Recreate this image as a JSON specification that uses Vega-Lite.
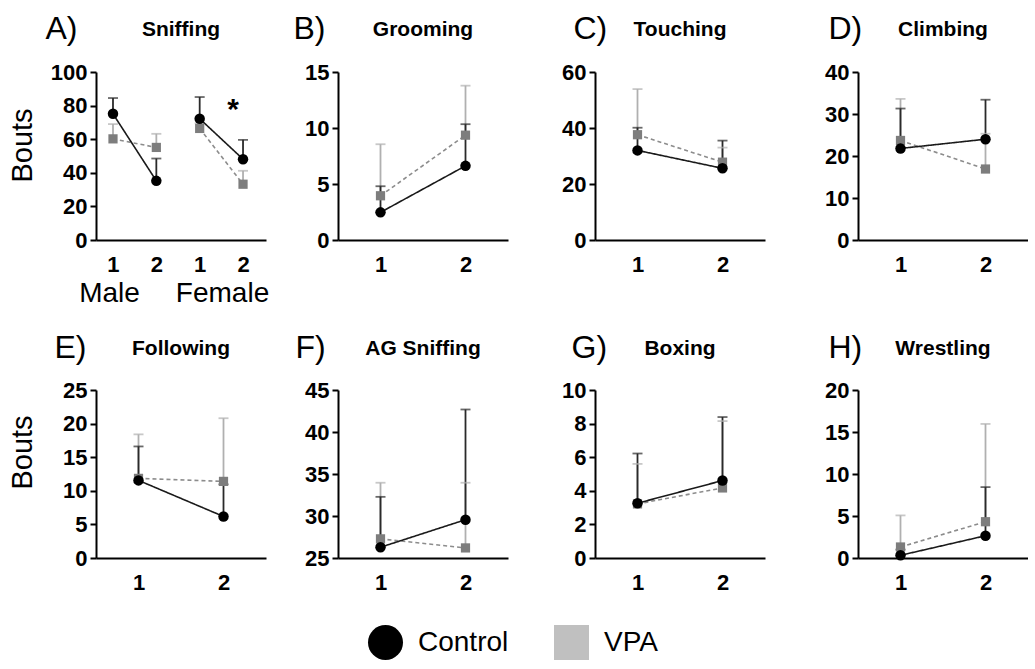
{
  "$schema": "https://vega.github.io/schema/vega-lite/v6.json",
  "padding": {"left": 8, "top": 12, "right": 0, "bottom": 0},
  "background": "white",
  "datasets": {
    "A": [
      {"group": "VPA", "sex": "Male", "pos": 1, "mean": 60.2, "upper": 69.0},
      {"group": "VPA", "sex": "Male", "pos": 2, "mean": 55.1, "upper": 63.2},
      {"group": "VPA", "sex": "Female", "pos": 3, "mean": 66.4, "upper": 69.5},
      {"group": "VPA", "sex": "Female", "pos": 4, "mean": 33.2, "upper": 41.2},
      {"group": "Control", "sex": "Male", "pos": 1, "mean": 75.1, "upper": 84.5},
      {"group": "Control", "sex": "Male", "pos": 2, "mean": 35.2, "upper": 48.5},
      {"group": "Control", "sex": "Female", "pos": 3, "mean": 72.2, "upper": 85.1},
      {"group": "Control", "sex": "Female", "pos": 4, "mean": 48.1, "upper": 59.6}
    ],
    "B": [
      {"group": "VPA", "sex": "All", "pos": 1, "mean": 3.95, "upper": 8.55},
      {"group": "VPA", "sex": "All", "pos": 2, "mean": 9.36, "upper": 13.78},
      {"group": "Control", "sex": "All", "pos": 1, "mean": 2.47, "upper": 4.8},
      {"group": "Control", "sex": "All", "pos": 2, "mean": 6.62, "upper": 10.34}
    ],
    "C": [
      {"group": "VPA", "sex": "All", "pos": 1, "mean": 37.6, "upper": 53.9},
      {"group": "VPA", "sex": "All", "pos": 2, "mean": 27.8, "upper": 33.0},
      {"group": "Control", "sex": "All", "pos": 1, "mean": 32.0, "upper": 40.1},
      {"group": "Control", "sex": "All", "pos": 2, "mean": 25.6, "upper": 35.5}
    ],
    "D": [
      {"group": "VPA", "sex": "All", "pos": 1, "mean": 23.7, "upper": 33.6},
      {"group": "VPA", "sex": "All", "pos": 2, "mean": 16.9, "upper": 25.3},
      {"group": "Control", "sex": "All", "pos": 1, "mean": 21.8, "upper": 31.3},
      {"group": "Control", "sex": "All", "pos": 2, "mean": 24.0, "upper": 33.4}
    ],
    "E": [
      {"group": "VPA", "sex": "All", "pos": 1, "mean": 11.85, "upper": 18.4},
      {"group": "VPA", "sex": "All", "pos": 2, "mean": 11.4, "upper": 20.8},
      {"group": "Control", "sex": "All", "pos": 1, "mean": 11.55, "upper": 16.6},
      {"group": "Control", "sex": "All", "pos": 2, "mean": 6.18, "upper": 10.96}
    ],
    "F": [
      {"group": "VPA", "sex": "All", "pos": 1, "mean": 27.28, "upper": 33.96},
      {"group": "VPA", "sex": "All", "pos": 2, "mean": 26.2, "upper": 33.96},
      {"group": "Control", "sex": "All", "pos": 1, "mean": 26.28, "upper": 32.28},
      {"group": "Control", "sex": "All", "pos": 2, "mean": 29.56, "upper": 42.68}
    ],
    "G": [
      {"group": "VPA", "sex": "All", "pos": 1, "mean": 3.22, "upper": 5.6},
      {"group": "VPA", "sex": "All", "pos": 2, "mean": 4.17, "upper": 8.15},
      {"group": "Control", "sex": "All", "pos": 1, "mean": 3.26, "upper": 6.22},
      {"group": "Control", "sex": "All", "pos": 2, "mean": 4.61, "upper": 8.39}
    ],
    "H": [
      {"group": "VPA", "sex": "All", "pos": 1, "mean": 1.31, "upper": 5.07},
      {"group": "VPA", "sex": "All", "pos": 2, "mean": 4.32, "upper": 15.96},
      {"group": "Control", "sex": "All", "pos": 1, "mean": 0.32, "upper": 1.0},
      {"group": "Control", "sex": "All", "pos": 2, "mean": 2.65, "upper": 8.44}
    ]
  },
  "columns": 4,
  "align": "each",
  "spacing": {"row": 24, "column": 10},
  "concat": [
    {
      "width": 170, "height": 168,
      "data": {"name": "A"},
      "title": {"text": "Sniffing"},
      "resolve": {"axis": {"x": "independent"}},
      "layer": [
        {"mark": {"type": "rule", "strokeWidth": 1.8},
         "encoding": {
           "x": {"field": "pos", "type": "quantitative", "scale": {"domain": [0.608, 4.53]}, "axis": {"values": [1, 2, 3, 4], "tickCount": 20, "labelExpr": "'' + (datum.value > 2 ? datum.value - 2 : datum.value)", "ticks": false, "labelPadding": 14, "title": null, "labelAngle": 0, "labelOverlap": false}},
           "y": {"field": "mean", "type": "quantitative", "scale": {"domain": [0, 100], "nice": false, "zero": false}, "axis": {"values": [0, 20, 40, 60, 80, 100], "tickCount": 20, "format": "d", "labelOverlap": false, "title": "Bouts", "titleFontSize": 29, "titleFontWeight": "normal", "titlePadding": 14, "titleY": 73, "minExtent": 45, "maxExtent": 45}},
           "y2": {"field": "upper"},
           "color": {"condition": {"test": "datum.group === 'VPA'", "value": "#b0b0b0"}, "value": "#2a2a2a"}
         }},
        {"mark": {"type": "tick", "orient": "horizontal", "size": 10, "thickness": 1.8},
         "encoding": {
           "x": {"field": "pos", "type": "quantitative", "scale": {"domain": [0.608, 4.53]}, "axis": {"orient": "top", "labels": false, "ticks": false, "domain": false, "title": "A)", "titleFontSize": 32, "titleFontWeight": "normal", "titleX": -51, "titleY": -34, "titleAlign": "left", "titleBaseline": "alphabetic", "minExtent": 0, "maxExtent": 0}},
           "y": {"field": "upper", "type": "quantitative", "scale": {"domain": [0, 100], "nice": false, "zero": false}},
           "color": {"condition": {"test": "datum.group === 'VPA'", "value": "#b0b0b0"}, "value": "#2a2a2a"}
         }},
        {"mark": {"type": "line", "strokeWidth": 1.6},
         "encoding": {
           "x": {"field": "pos", "type": "quantitative", "scale": {"domain": [0.608, 4.53]}, "axis": {"values": [0.908, 3.516], "labelExpr": "datum.value < 2 ? 'Male' : 'Female'", "ticks": false, "domain": false, "labelPadding": 39, "labelFontSize": 28, "labelFontWeight": "normal", "title": null, "labelAngle": 0, "labelOverlap": false}},
           "y": {"field": "mean", "type": "quantitative", "scale": {"domain": [0, 100], "nice": false, "zero": false}},
           "detail": [{"field": "group"}, {"field": "sex"}],
           "color": {"condition": {"test": "datum.group === 'VPA'", "value": "#8c8c8c"}, "value": "#1a1a1a"},
           "strokeDash": {"condition": {"test": "datum.group === 'VPA'", "value": [4, 3]}, "value": [1, 0]}
         }},
        {"mark": {"type": "point", "filled": true, "opacity": 1},
         "encoding": {
           "x": {"field": "pos", "type": "quantitative", "scale": {"domain": [0.608, 4.53]}, "axis": null},
           "y": {"field": "mean", "type": "quantitative", "scale": {"domain": [0, 100], "nice": false, "zero": false}},
           "shape": {"condition": {"test": "datum.group === 'VPA'", "value": "square"}, "value": "circle"},
           "size": {"condition": {"test": "datum.group === 'VPA'", "value": 85}, "value": 110},
           "color": {"condition": {"test": "datum.group === 'VPA'", "value": "#7d7d7d"}, "value": "#000000"}
         }},
        {"mark": {"type": "point", "filled": true, "opacity": 0},
         "encoding": {
           "x": {"field": "pos", "type": "quantitative", "scale": {"domain": [0.608, 4.53]}, "axis": null},
           "y": {"field": "mean", "type": "quantitative", "scale": {"domain": [0, 100], "nice": false, "zero": false}},
           "fill": {"field": "group", "type": "nominal", "scale": {"domain": ["Control", "VPA"], "range": ["#000000", "#c0c0c0"]}, "legend": {"title": null, "orient": "none", "legendX": 272, "legendY": 553, "direction": "horizontal", "symbolSize": 1225, "labelFontSize": 28, "labelFontWeight": "normal", "labelOffset": 15, "columnPadding": 45, "symbolOpacity": 1, "symbolStrokeWidth": 0}},
           "shape": {"field": "group", "type": "nominal", "scale": {"domain": ["Control", "VPA"], "range": ["circle", "square"]}, "legend": {"title": null, "orient": "none", "legendX": 272, "legendY": 553, "direction": "horizontal", "symbolSize": 1225, "labelFontSize": 28, "labelFontWeight": "normal", "labelOffset": 15, "columnPadding": 45, "symbolOpacity": 1, "symbolStrokeWidth": 0}}
         }},
        {"data": {"values": [{"pos": 3.77, "mean": 77.5, "label": "*"}]},
         "mark": {"type": "text", "fontSize": 30, "fontWeight": "bold", "baseline": "middle", "align": "center"},
         "encoding": {
           "x": {"field": "pos", "type": "quantitative", "scale": {"domain": [0.608, 4.53]}, "axis": null},
           "y": {"field": "mean", "type": "quantitative", "scale": {"domain": [0, 100], "nice": false, "zero": false}},
           "text": {"field": "label"}
         }}
      ]
    },
    {
      "width": 170, "height": 168,
      "data": {"name": "B"},
      "title": {"text": "Grooming"},
      "resolve": {"axis": {"x": "independent"}},
      "layer": [
        {"mark": {"type": "rule", "strokeWidth": 1.8},
         "encoding": {
           "x": {"field": "pos", "type": "quantitative", "scale": {"domain": [0.5, 2.5]}, "axis": {"values": [1, 2], "ticks": false, "labelPadding": 14, "title": null, "labelAngle": 0, "labelOverlap": false}},
           "y": {"field": "mean", "type": "quantitative", "scale": {"domain": [0, 15], "nice": false, "zero": false}, "axis": {"values": [0, 5, 10, 15], "tickCount": 20, "format": "d", "labelOverlap": false, "title": null, "minExtent": 59, "maxExtent": 59}},
           "y2": {"field": "upper"},
           "color": {"condition": {"test": "datum.group === 'VPA'", "value": "#b0b0b0"}, "value": "#2a2a2a"}
         }},
        {"mark": {"type": "tick", "orient": "horizontal", "size": 10, "thickness": 1.8},
         "encoding": {
           "x": {"field": "pos", "type": "quantitative", "scale": {"domain": [0.5, 2.5]}, "axis": {"orient": "top", "labels": false, "ticks": false, "domain": false, "title": "B)", "titleFontSize": 32, "titleFontWeight": "normal", "titleX": -45, "titleY": -34, "titleAlign": "left", "titleBaseline": "alphabetic", "minExtent": 0, "maxExtent": 0}},
           "y": {"field": "upper", "type": "quantitative", "scale": {"domain": [0, 15], "nice": false, "zero": false}},
           "color": {"condition": {"test": "datum.group === 'VPA'", "value": "#b0b0b0"}, "value": "#2a2a2a"}
         }},
        {"mark": {"type": "line", "strokeWidth": 1.6},
         "encoding": {
           "x": {"field": "pos", "type": "quantitative", "scale": {"domain": [0.5, 2.5]}, "axis": null},
           "y": {"field": "mean", "type": "quantitative", "scale": {"domain": [0, 15], "nice": false, "zero": false}},
           "detail": [{"field": "group"}, {"field": "sex"}],
           "color": {"condition": {"test": "datum.group === 'VPA'", "value": "#8c8c8c"}, "value": "#1a1a1a"},
           "strokeDash": {"condition": {"test": "datum.group === 'VPA'", "value": [4, 3]}, "value": [1, 0]}
         }},
        {"mark": {"type": "point", "filled": true, "opacity": 1},
         "encoding": {
           "x": {"field": "pos", "type": "quantitative", "scale": {"domain": [0.5, 2.5]}, "axis": null},
           "y": {"field": "mean", "type": "quantitative", "scale": {"domain": [0, 15], "nice": false, "zero": false}},
           "shape": {"condition": {"test": "datum.group === 'VPA'", "value": "square"}, "value": "circle"},
           "size": {"condition": {"test": "datum.group === 'VPA'", "value": 85}, "value": 110},
           "color": {"condition": {"test": "datum.group === 'VPA'", "value": "#7d7d7d"}, "value": "#000000"}
         }}
      ]
    },
    {
      "width": 170, "height": 168,
      "data": {"name": "C"},
      "title": {"text": "Touching"},
      "resolve": {"axis": {"x": "independent"}},
      "layer": [
        {"mark": {"type": "rule", "strokeWidth": 1.8},
         "encoding": {
           "x": {"field": "pos", "type": "quantitative", "scale": {"domain": [0.5, 2.5]}, "axis": {"values": [1, 2], "ticks": false, "labelPadding": 14, "title": null, "labelAngle": 0, "labelOverlap": false}},
           "y": {"field": "mean", "type": "quantitative", "scale": {"domain": [0, 60], "nice": false, "zero": false}, "axis": {"values": [0, 20, 40, 60], "tickCount": 20, "format": "d", "labelOverlap": false, "title": null, "minExtent": 77, "maxExtent": 77}},
           "y2": {"field": "upper"},
           "color": {"condition": {"test": "datum.group === 'VPA'", "value": "#b0b0b0"}, "value": "#2a2a2a"}
         }},
        {"mark": {"type": "tick", "orient": "horizontal", "size": 10, "thickness": 1.8},
         "encoding": {
           "x": {"field": "pos", "type": "quantitative", "scale": {"domain": [0.5, 2.5]}, "axis": {"orient": "top", "labels": false, "ticks": false, "domain": false, "title": "C)", "titleFontSize": 32, "titleFontWeight": "normal", "titleX": -22, "titleY": -34, "titleAlign": "left", "titleBaseline": "alphabetic", "minExtent": 0, "maxExtent": 0}},
           "y": {"field": "upper", "type": "quantitative", "scale": {"domain": [0, 60], "nice": false, "zero": false}},
           "color": {"condition": {"test": "datum.group === 'VPA'", "value": "#b0b0b0"}, "value": "#2a2a2a"}
         }},
        {"mark": {"type": "line", "strokeWidth": 1.6},
         "encoding": {
           "x": {"field": "pos", "type": "quantitative", "scale": {"domain": [0.5, 2.5]}, "axis": null},
           "y": {"field": "mean", "type": "quantitative", "scale": {"domain": [0, 60], "nice": false, "zero": false}},
           "detail": [{"field": "group"}, {"field": "sex"}],
           "color": {"condition": {"test": "datum.group === 'VPA'", "value": "#8c8c8c"}, "value": "#1a1a1a"},
           "strokeDash": {"condition": {"test": "datum.group === 'VPA'", "value": [4, 3]}, "value": [1, 0]}
         }},
        {"mark": {"type": "point", "filled": true, "opacity": 1},
         "encoding": {
           "x": {"field": "pos", "type": "quantitative", "scale": {"domain": [0.5, 2.5]}, "axis": null},
           "y": {"field": "mean", "type": "quantitative", "scale": {"domain": [0, 60], "nice": false, "zero": false}},
           "shape": {"condition": {"test": "datum.group === 'VPA'", "value": "square"}, "value": "circle"},
           "size": {"condition": {"test": "datum.group === 'VPA'", "value": 85}, "value": 110},
           "color": {"condition": {"test": "datum.group === 'VPA'", "value": "#7d7d7d"}, "value": "#000000"}
         }}
      ]
    },
    {
      "width": 170, "height": 168,
      "data": {"name": "D"},
      "title": {"text": "Climbing"},
      "resolve": {"axis": {"x": "independent"}},
      "layer": [
        {"mark": {"type": "rule", "strokeWidth": 1.8},
         "encoding": {
           "x": {"field": "pos", "type": "quantitative", "scale": {"domain": [0.5, 2.5]}, "axis": {"values": [1, 2], "ticks": false, "labelPadding": 14, "title": null, "labelAngle": 0, "labelOverlap": false}},
           "y": {"field": "mean", "type": "quantitative", "scale": {"domain": [0, 40], "nice": false, "zero": false}, "axis": {"values": [0, 10, 20, 30, 40], "tickCount": 20, "format": "d", "labelOverlap": false, "title": null, "minExtent": 83, "maxExtent": 83}},
           "y2": {"field": "upper"},
           "color": {"condition": {"test": "datum.group === 'VPA'", "value": "#b0b0b0"}, "value": "#2a2a2a"}
         }},
        {"mark": {"type": "tick", "orient": "horizontal", "size": 10, "thickness": 1.8},
         "encoding": {
           "x": {"field": "pos", "type": "quantitative", "scale": {"domain": [0.5, 2.5]}, "axis": {"orient": "top", "labels": false, "ticks": false, "domain": false, "title": "D)", "titleFontSize": 32, "titleFontWeight": "normal", "titleX": -30, "titleY": -34, "titleAlign": "left", "titleBaseline": "alphabetic", "minExtent": 0, "maxExtent": 0}},
           "y": {"field": "upper", "type": "quantitative", "scale": {"domain": [0, 40], "nice": false, "zero": false}},
           "color": {"condition": {"test": "datum.group === 'VPA'", "value": "#b0b0b0"}, "value": "#2a2a2a"}
         }},
        {"mark": {"type": "line", "strokeWidth": 1.6},
         "encoding": {
           "x": {"field": "pos", "type": "quantitative", "scale": {"domain": [0.5, 2.5]}, "axis": null},
           "y": {"field": "mean", "type": "quantitative", "scale": {"domain": [0, 40], "nice": false, "zero": false}},
           "detail": [{"field": "group"}, {"field": "sex"}],
           "color": {"condition": {"test": "datum.group === 'VPA'", "value": "#8c8c8c"}, "value": "#1a1a1a"},
           "strokeDash": {"condition": {"test": "datum.group === 'VPA'", "value": [4, 3]}, "value": [1, 0]}
         }},
        {"mark": {"type": "point", "filled": true, "opacity": 1},
         "encoding": {
           "x": {"field": "pos", "type": "quantitative", "scale": {"domain": [0.5, 2.5]}, "axis": null},
           "y": {"field": "mean", "type": "quantitative", "scale": {"domain": [0, 40], "nice": false, "zero": false}},
           "shape": {"condition": {"test": "datum.group === 'VPA'", "value": "square"}, "value": "circle"},
           "size": {"condition": {"test": "datum.group === 'VPA'", "value": 85}, "value": 110},
           "color": {"condition": {"test": "datum.group === 'VPA'", "value": "#7d7d7d"}, "value": "#000000"}
         }}
      ]
    },
    {
      "width": 170, "height": 168,
      "data": {"name": "E"},
      "title": {"text": "Following"},
      "resolve": {"axis": {"x": "independent"}},
      "layer": [
        {"mark": {"type": "rule", "strokeWidth": 1.8},
         "encoding": {
           "x": {"field": "pos", "type": "quantitative", "scale": {"domain": [0.5, 2.5]}, "axis": {"values": [1, 2], "ticks": false, "labelPadding": 14, "title": null, "labelAngle": 0, "labelOverlap": false}},
           "y": {"field": "mean", "type": "quantitative", "scale": {"domain": [0, 25], "nice": false, "zero": false}, "axis": {"values": [0, 5, 10, 15, 20, 25], "tickCount": 20, "format": "d", "labelOverlap": false, "title": "Bouts", "titleFontSize": 29, "titleFontWeight": "normal", "titlePadding": 14, "titleY": 62, "minExtent": 45, "maxExtent": 45}},
           "y2": {"field": "upper"},
           "color": {"condition": {"test": "datum.group === 'VPA'", "value": "#b0b0b0"}, "value": "#2a2a2a"}
         }},
        {"mark": {"type": "tick", "orient": "horizontal", "size": 10, "thickness": 1.8},
         "encoding": {
           "x": {"field": "pos", "type": "quantitative", "scale": {"domain": [0.5, 2.5]}, "axis": {"orient": "top", "labels": false, "ticks": false, "domain": false, "title": "E)", "titleFontSize": 32, "titleFontWeight": "normal", "titleX": -42, "titleY": -33, "titleAlign": "left", "titleBaseline": "alphabetic", "minExtent": 0, "maxExtent": 0}},
           "y": {"field": "upper", "type": "quantitative", "scale": {"domain": [0, 25], "nice": false, "zero": false}},
           "color": {"condition": {"test": "datum.group === 'VPA'", "value": "#b0b0b0"}, "value": "#2a2a2a"}
         }},
        {"mark": {"type": "line", "strokeWidth": 1.6},
         "encoding": {
           "x": {"field": "pos", "type": "quantitative", "scale": {"domain": [0.5, 2.5]}, "axis": null},
           "y": {"field": "mean", "type": "quantitative", "scale": {"domain": [0, 25], "nice": false, "zero": false}},
           "detail": [{"field": "group"}, {"field": "sex"}],
           "color": {"condition": {"test": "datum.group === 'VPA'", "value": "#8c8c8c"}, "value": "#1a1a1a"},
           "strokeDash": {"condition": {"test": "datum.group === 'VPA'", "value": [4, 3]}, "value": [1, 0]}
         }},
        {"mark": {"type": "point", "filled": true, "opacity": 1},
         "encoding": {
           "x": {"field": "pos", "type": "quantitative", "scale": {"domain": [0.5, 2.5]}, "axis": null},
           "y": {"field": "mean", "type": "quantitative", "scale": {"domain": [0, 25], "nice": false, "zero": false}},
           "shape": {"condition": {"test": "datum.group === 'VPA'", "value": "square"}, "value": "circle"},
           "size": {"condition": {"test": "datum.group === 'VPA'", "value": 85}, "value": 110},
           "color": {"condition": {"test": "datum.group === 'VPA'", "value": "#7d7d7d"}, "value": "#000000"}
         }}
      ]
    },
    {
      "width": 170, "height": 168,
      "data": {"name": "F"},
      "title": {"text": "AG Sniffing"},
      "resolve": {"axis": {"x": "independent"}},
      "layer": [
        {"mark": {"type": "rule", "strokeWidth": 1.8},
         "encoding": {
           "x": {"field": "pos", "type": "quantitative", "scale": {"domain": [0.5, 2.5]}, "axis": {"values": [1, 2], "ticks": false, "labelPadding": 14, "title": null, "labelAngle": 0, "labelOverlap": false}},
           "y": {"field": "mean", "type": "quantitative", "scale": {"domain": [25, 45], "nice": false, "zero": false}, "axis": {"values": [25, 30, 35, 40, 45], "tickCount": 20, "format": "d", "labelOverlap": false, "title": null, "minExtent": 59, "maxExtent": 59}},
           "y2": {"field": "upper"},
           "color": {"condition": {"test": "datum.group === 'VPA'", "value": "#b0b0b0"}, "value": "#2a2a2a"}
         }},
        {"mark": {"type": "tick", "orient": "horizontal", "size": 10, "thickness": 1.8},
         "encoding": {
           "x": {"field": "pos", "type": "quantitative", "scale": {"domain": [0.5, 2.5]}, "axis": {"orient": "top", "labels": false, "ticks": false, "domain": false, "title": "F)", "titleFontSize": 32, "titleFontWeight": "normal", "titleX": -43, "titleY": -33, "titleAlign": "left", "titleBaseline": "alphabetic", "minExtent": 0, "maxExtent": 0}},
           "y": {"field": "upper", "type": "quantitative", "scale": {"domain": [25, 45], "nice": false, "zero": false}},
           "color": {"condition": {"test": "datum.group === 'VPA'", "value": "#b0b0b0"}, "value": "#2a2a2a"}
         }},
        {"mark": {"type": "line", "strokeWidth": 1.6},
         "encoding": {
           "x": {"field": "pos", "type": "quantitative", "scale": {"domain": [0.5, 2.5]}, "axis": null},
           "y": {"field": "mean", "type": "quantitative", "scale": {"domain": [25, 45], "nice": false, "zero": false}},
           "detail": [{"field": "group"}, {"field": "sex"}],
           "color": {"condition": {"test": "datum.group === 'VPA'", "value": "#8c8c8c"}, "value": "#1a1a1a"},
           "strokeDash": {"condition": {"test": "datum.group === 'VPA'", "value": [4, 3]}, "value": [1, 0]}
         }},
        {"mark": {"type": "point", "filled": true, "opacity": 1},
         "encoding": {
           "x": {"field": "pos", "type": "quantitative", "scale": {"domain": [0.5, 2.5]}, "axis": null},
           "y": {"field": "mean", "type": "quantitative", "scale": {"domain": [25, 45], "nice": false, "zero": false}},
           "shape": {"condition": {"test": "datum.group === 'VPA'", "value": "square"}, "value": "circle"},
           "size": {"condition": {"test": "datum.group === 'VPA'", "value": 85}, "value": 110},
           "color": {"condition": {"test": "datum.group === 'VPA'", "value": "#7d7d7d"}, "value": "#000000"}
         }}
      ]
    },
    {
      "width": 170, "height": 168,
      "data": {"name": "G"},
      "title": {"text": "Boxing"},
      "resolve": {"axis": {"x": "independent"}},
      "layer": [
        {"mark": {"type": "rule", "strokeWidth": 1.8},
         "encoding": {
           "x": {"field": "pos", "type": "quantitative", "scale": {"domain": [0.5, 2.5]}, "axis": {"values": [1, 2], "ticks": false, "labelPadding": 14, "title": null, "labelAngle": 0, "labelOverlap": false}},
           "y": {"field": "mean", "type": "quantitative", "scale": {"domain": [0, 10], "nice": false, "zero": false}, "axis": {"values": [0, 2, 4, 6, 8, 10], "tickCount": 20, "format": "d", "labelOverlap": false, "title": null, "minExtent": 77, "maxExtent": 77}},
           "y2": {"field": "upper"},
           "color": {"condition": {"test": "datum.group === 'VPA'", "value": "#b0b0b0"}, "value": "#2a2a2a"}
         }},
        {"mark": {"type": "tick", "orient": "horizontal", "size": 10, "thickness": 1.8},
         "encoding": {
           "x": {"field": "pos", "type": "quantitative", "scale": {"domain": [0.5, 2.5]}, "axis": {"orient": "top", "labels": false, "ticks": false, "domain": false, "title": "G)", "titleFontSize": 32, "titleFontWeight": "normal", "titleX": -24, "titleY": -33, "titleAlign": "left", "titleBaseline": "alphabetic", "minExtent": 0, "maxExtent": 0}},
           "y": {"field": "upper", "type": "quantitative", "scale": {"domain": [0, 10], "nice": false, "zero": false}},
           "color": {"condition": {"test": "datum.group === 'VPA'", "value": "#b0b0b0"}, "value": "#2a2a2a"}
         }},
        {"mark": {"type": "line", "strokeWidth": 1.6},
         "encoding": {
           "x": {"field": "pos", "type": "quantitative", "scale": {"domain": [0.5, 2.5]}, "axis": null},
           "y": {"field": "mean", "type": "quantitative", "scale": {"domain": [0, 10], "nice": false, "zero": false}},
           "detail": [{"field": "group"}, {"field": "sex"}],
           "color": {"condition": {"test": "datum.group === 'VPA'", "value": "#8c8c8c"}, "value": "#1a1a1a"},
           "strokeDash": {"condition": {"test": "datum.group === 'VPA'", "value": [4, 3]}, "value": [1, 0]}
         }},
        {"mark": {"type": "point", "filled": true, "opacity": 1},
         "encoding": {
           "x": {"field": "pos", "type": "quantitative", "scale": {"domain": [0.5, 2.5]}, "axis": null},
           "y": {"field": "mean", "type": "quantitative", "scale": {"domain": [0, 10], "nice": false, "zero": false}},
           "shape": {"condition": {"test": "datum.group === 'VPA'", "value": "square"}, "value": "circle"},
           "size": {"condition": {"test": "datum.group === 'VPA'", "value": 85}, "value": 110},
           "color": {"condition": {"test": "datum.group === 'VPA'", "value": "#7d7d7d"}, "value": "#000000"}
         }}
      ]
    },
    {
      "width": 170, "height": 168,
      "data": {"name": "H"},
      "title": {"text": "Wrestling"},
      "resolve": {"axis": {"x": "independent"}},
      "layer": [
        {"mark": {"type": "rule", "strokeWidth": 1.8},
         "encoding": {
           "x": {"field": "pos", "type": "quantitative", "scale": {"domain": [0.5, 2.5]}, "axis": {"values": [1, 2], "ticks": false, "labelPadding": 14, "title": null, "labelAngle": 0, "labelOverlap": false}},
           "y": {"field": "mean", "type": "quantitative", "scale": {"domain": [0, 20], "nice": false, "zero": false}, "axis": {"values": [0, 5, 10, 15, 20], "tickCount": 20, "format": "d", "labelOverlap": false, "title": null, "minExtent": 83, "maxExtent": 83}},
           "y2": {"field": "upper"},
           "color": {"condition": {"test": "datum.group === 'VPA'", "value": "#b0b0b0"}, "value": "#2a2a2a"}
         }},
        {"mark": {"type": "tick", "orient": "horizontal", "size": 10, "thickness": 1.8},
         "encoding": {
           "x": {"field": "pos", "type": "quantitative", "scale": {"domain": [0.5, 2.5]}, "axis": {"orient": "top", "labels": false, "ticks": false, "domain": false, "title": "H)", "titleFontSize": 32, "titleFontWeight": "normal", "titleX": -30, "titleY": -33, "titleAlign": "left", "titleBaseline": "alphabetic", "minExtent": 0, "maxExtent": 0}},
           "y": {"field": "upper", "type": "quantitative", "scale": {"domain": [0, 20], "nice": false, "zero": false}},
           "color": {"condition": {"test": "datum.group === 'VPA'", "value": "#b0b0b0"}, "value": "#2a2a2a"}
         }},
        {"mark": {"type": "line", "strokeWidth": 1.6},
         "encoding": {
           "x": {"field": "pos", "type": "quantitative", "scale": {"domain": [0.5, 2.5]}, "axis": null},
           "y": {"field": "mean", "type": "quantitative", "scale": {"domain": [0, 20], "nice": false, "zero": false}},
           "detail": [{"field": "group"}, {"field": "sex"}],
           "color": {"condition": {"test": "datum.group === 'VPA'", "value": "#8c8c8c"}, "value": "#1a1a1a"},
           "strokeDash": {"condition": {"test": "datum.group === 'VPA'", "value": [4, 3]}, "value": [1, 0]}
         }},
        {"mark": {"type": "point", "filled": true, "opacity": 1},
         "encoding": {
           "x": {"field": "pos", "type": "quantitative", "scale": {"domain": [0.5, 2.5]}, "axis": null},
           "y": {"field": "mean", "type": "quantitative", "scale": {"domain": [0, 20], "nice": false, "zero": false}},
           "shape": {"condition": {"test": "datum.group === 'VPA'", "value": "square"}, "value": "circle"},
           "size": {"condition": {"test": "datum.group === 'VPA'", "value": 85}, "value": 110},
           "color": {"condition": {"test": "datum.group === 'VPA'", "value": "#7d7d7d"}, "value": "#000000"}
         }}
      ]
    }
  ],
  "config": {
    "view": {"stroke": null},
    "font": "Liberation Sans",
    "axis": {"grid": false, "domainColor": "#000000", "domainWidth": 2, "tickColor": "#000000", "tickWidth": 2, "tickSize": 6, "labelColor": "#000000", "labelFont": "Liberation Sans", "labelFontSize": 22, "labelFontWeight": "bold", "labelPadding": 3, "titleColor": "#000000", "titleFont": "Liberation Sans", "labelFlush": false, "labelOverlap": false, "labelBound": false},
    "title": {"font": "Liberation Sans", "fontSize": 21, "fontWeight": "bold", "color": "#000000", "anchor": "middle", "frame": "group", "offset": -28},
    "legend": {"labelFont": "Liberation Sans", "labelColor": "#000000"}
  }
}
